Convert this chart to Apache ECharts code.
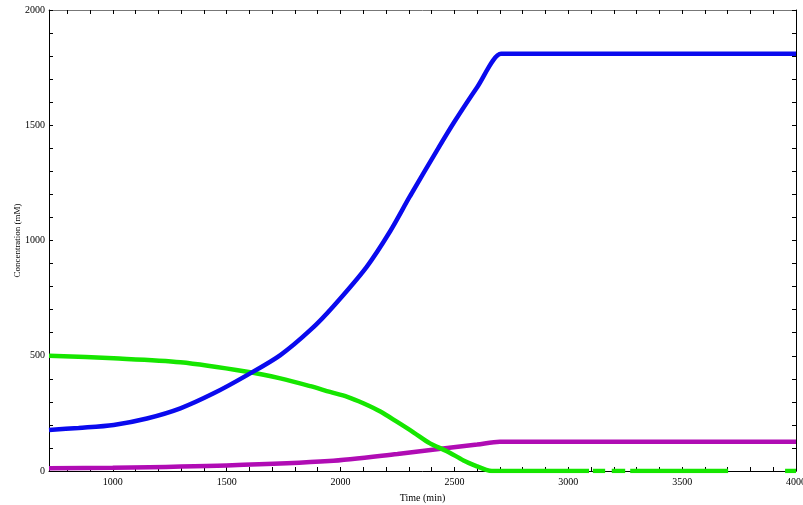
<!DOCTYPE html>
<html>
<head>
<meta charset="utf-8">
<script src="https://cdn.jsdelivr.net/npm/echarts@6/dist/echarts.min.js"></script>
<style>html,body{margin:0;padding:0;background:#fff}#c{width:803px;height:505px}</style>
</head>
<body>
<div id="c"></div>
<script>
// Blue curve
const blueT = [720, 850, 1004, 1150, 1297, 1443, 1590, 1736, 1868, 1967, 2115, 2218, 2305, 2423, 2500, 2600, 2705, 2712, 3000, 3500, 4000];
const blueV = [178, 187, 200, 228, 272, 337, 416, 503, 612, 713, 886, 1040, 1192, 1390, 1515, 1665, 1810, 1810, 1810, 1810, 1810];
// Green curve (gaps = null)
const greenT = [720, 1004, 1297, 1590, 1736, 1868, 1954, 2030, 2100, 2175, 2247, 2320, 2393, 2467, 2540, 2600, 2640, 2665, 2672, 3091, 3100, 3108, 3162, 3175, 3191, 3250, 3260, 3272, 3702, 3800, 3952, 4000];
const greenV = [500, 489, 472, 431, 402, 368, 343, 322, 294, 258, 214, 168, 120, 86, 46, 20, 5, 0, 0, 0, null, 0, 0, null, 0, 0, null, 0, 0, null, 0, 0];
// Magenta curve
const magT = [720, 1000, 1500, 1950, 2250, 2450, 2600, 2700, 2708, 3000, 4000];
const magV = [12, 14, 24, 43, 74, 98, 115, 127, 127, 127, 127];

const xTicks = [];
for (let v = 800; v <= 4000; v += 100) xTicks.push(v);
const xLabels = [1000, 1500, 2000, 2500, 3000, 3500, 4000];
const yLabels = [0, 500, 1000, 1500, 2000];

const pairs = (t, v) => t.map((x, i) => [x, v[i]]);
const font = 'Liberation Serif';
const plain = v => String(v);

const chart = echarts.init(document.getElementById('c'), null, {renderer: 'canvas'});
const tickLine = {show: true, inside: true, length: 4, lineStyle: {color: '#000', width: 1}};
chart.setOption({
  animation: false,
  backgroundColor: '#fff',
  grid: {left: 49, right: 7, top: 10, bottom: 34, containLabel: false, outerBoundsMode: 'none'},
  xAxis: [{
    type: 'value', min: 720, max: 4000, position: 'bottom',
    name: 'Time (min)', nameLocation: 'middle', nameGap: 22, nameMoveOverlap: false,
    nameTextStyle: {fontFamily: font, fontSize: 10, color: '#000'},
    axisLine: {show: true, onZero: false, lineStyle: {color: '#000', width: 1}},
    axisTick: Object.assign({customValues: xTicks}, tickLine),
    axisLabel: {customValues: xLabels, formatter: plain, fontFamily: font, fontSize: 10, color: '#000', margin: 6, showMinLabel: true, showMaxLabel: true},
    splitLine: {show: false}
  }, {
    type: 'value', min: 720, max: 4000, position: 'top',
    axisLine: {show: true, onZero: false, lineStyle: {color: '#777', width: 1}},
    axisTick: Object.assign({customValues: xTicks}, tickLine),
    axisLabel: {show: false}, splitLine: {show: false}
  }],
  yAxis: [{
    type: 'value', min: 0, max: 2000, interval: 100, position: 'left',
    name: 'Concentration (mM)', nameLocation: 'middle', nameGap: 27, nameRotate: 90, nameMoveOverlap: false,
    nameTextStyle: {fontFamily: font, fontSize: 9, color: '#000'},
    axisLine: {show: true, onZero: false, lineStyle: {color: '#000', width: 1}},
    axisTick: tickLine,
    axisLabel: {customValues: yLabels, formatter: plain, fontFamily: font, fontSize: 10, color: '#000', margin: 4},
    splitLine: {show: false}
  }, {
    type: 'value', min: 0, max: 2000, interval: 100, position: 'right',
    axisLine: {show: true, onZero: false, lineStyle: {color: '#000', width: 1}},
    axisTick: tickLine,
    axisLabel: {show: false}, splitLine: {show: false}
  }],
  series: [
    {type: 'line', name: 'magenta', data: pairs(magT, magV), showSymbol: false, smooth: 0.3,
     lineStyle: {color: '#b00cb4', width: 4.5}, itemStyle: {color: '#b00cb4'}, z: 3},
    {type: 'line', name: 'green', data: pairs(greenT, greenV), showSymbol: false, smooth: 0.3, connectNulls: false,
     lineStyle: {color: '#16e600', width: 4.5}, itemStyle: {color: '#16e600'}, z: 4},
    {type: 'line', name: 'blue', data: pairs(blueT, blueV), showSymbol: false, smooth: 0.3,
     lineStyle: {color: '#0a0aee', width: 4.5}, itemStyle: {color: '#0a0aee'}, z: 5}
  ]
});
</script>
</body>
</html>
